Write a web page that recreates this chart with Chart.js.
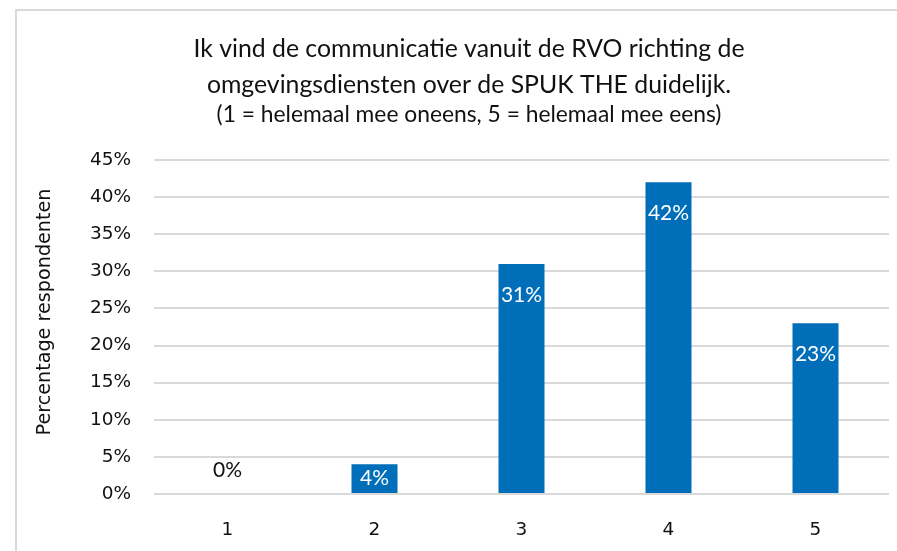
<!DOCTYPE html>
<html>
<head>
<meta charset="utf-8">
<script src="https://cdn.jsdelivr.net/npm/chart.js@4/dist/chart.umd.min.js"></script>
<style>
  html, body { margin: 0; padding: 0; background: #ffffff; width: 897px; height: 551px; overflow: hidden; }
  #frame { position: absolute; left: 15px; top: 9px; width: 2000px; height: 2000px; border: 2px solid #d9d9d9; box-sizing: border-box; }
  #wrap { position: absolute; left: 0; top: 0; width: 897px; height: 551px; }
</style>
</head>
<body>
<div id="frame"></div>
<div id="wrap"><canvas id="c" width="897" height="551"></canvas></div>
<script>
const titleLines = ['Ik vind de communicatie vanuit de RVO richting de', 'omgevingsdiensten over de SPUK THE duidelijk.'];
const subtitleText = '(1 = helemaal mee oneens, 5 = helemaal mee eens)';
const yAxisTitle = 'Percentage respondenten';
const categories = ['1', '2', '3', '4', '5'];
const values = [0, 4, 31, 42, 23];
const yMin = 0;
const yMax = 45;
const yStep = 5;

const barColor = '#006EB8';
const textColor = '#111111';
const gridColor = '#d9d9d9';

const PAD_LEFT = 49;
const PLOT_LEFT = 154;
const PLOT_BOTTOM = 494;

const dataLabelPlugin = {
  id: 'dataLabels',
  afterDatasetsDraw(chart) {
    const ctx = chart.ctx;
    const meta = chart.getDatasetMeta(0);
    ctx.save();
    ctx.font = '21px Lato';
    ctx.textAlign = 'center';
    ctx.textBaseline = 'middle';
    meta.data.forEach((bar, i) => {
      const v = values[i];
      const label = v + '%';
      const top = bar.y;
      const base = bar.base;
      const h = base - top;
      if (v === 0) {
        ctx.fillStyle = textColor;
        ctx.fillText(label, bar.x, base - 24);
      } else {
        ctx.fillStyle = '#ffffff';
        const cy = h > 62 ? top + 31 : (top + base) / 2;
        ctx.fillText(label, bar.x, cy);
      }
    });
    ctx.restore();
  }
};

const yTitlePlugin = {
  id: 'yTitle',
  afterDraw(chart) {
    const ctx = chart.ctx;
    const area = chart.chartArea;
    ctx.save();
    ctx.font = '19.2px "DejaVu Sans"';
    ctx.fillStyle = textColor;
    ctx.textAlign = 'center';
    ctx.textBaseline = 'middle';
    ctx.translate(45, (area.top + area.bottom) / 2 - 15);
    ctx.rotate(-Math.PI / 2);
    ctx.fillText(yAxisTitle, 0, 0);
    ctx.restore();
  }
};

new Chart(document.getElementById('c'), {
  type: 'bar',
  data: {
    labels: categories,
    datasets: [{
      data: values,
      backgroundColor: barColor,
      borderWidth: 0,
      categoryPercentage: 1.0,
      barPercentage: 0.313
    }]
  },
  options: {
    responsive: false,
    animation: false,
    devicePixelRatio: 1,
    layout: { padding: { left: PAD_LEFT, right: 8, top: 0, bottom: 0 } },
    plugins: {
      legend: { display: false },
      tooltip: { enabled: false },
      title: {
        display: true,
        text: titleLines,
        color: textColor,
        font: { family: 'Lato', size: 24.8, weight: 'normal', lineHeight: 36 / 24.8 },
        padding: { top: 31, bottom: 0 }
      },
      subtitle: {
        display: true,
        text: subtitleText,
        color: textColor,
        font: { family: 'Lato', size: 22.8, weight: 'normal', lineHeight: 24 / 22.8 },
        padding: { top: 0, bottom: 33 }
      }
    },
    scales: {
      x: {
        grid: { display: false, drawTicks: false },
        border: { display: false },
        ticks: { color: textColor, font: { family: 'DejaVu Sans', size: 18.5 }, padding: 25 },
        afterFit(scale) { scale.height = 551 - PLOT_BOTTOM; }
      },
      y: {
        min: yMin,
        max: yMax,
        grid: { color: gridColor, lineWidth: 2, drawTicks: false },
        border: { display: false },
        ticks: {
          stepSize: yStep,
          color: textColor,
          font: { family: 'DejaVu Sans', size: 18.5 },
          padding: 23,
          callback: (v) => v + '%'
        },
        title: { display: false },
        afterFit(scale) { scale.width = PLOT_LEFT - PAD_LEFT; }
      }
    }
  },
  plugins: [dataLabelPlugin, yTitlePlugin]
});
</script>
</body>
</html>
